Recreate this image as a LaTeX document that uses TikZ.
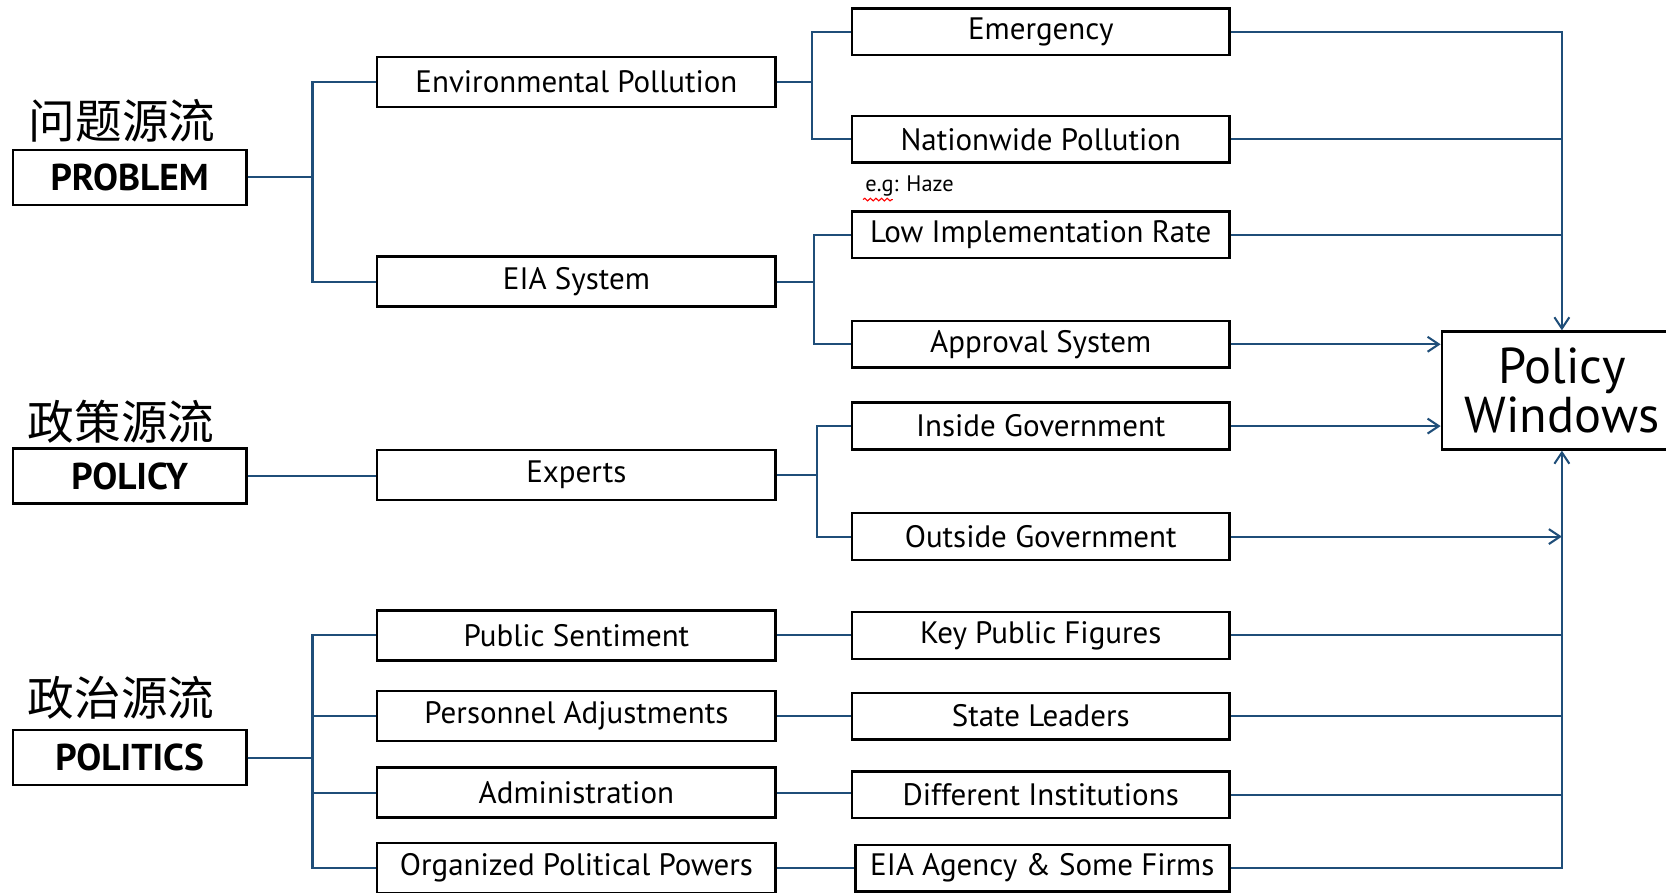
\documentclass[tikz,border=0pt]{standalone}
\usepackage{fontspec}
\setmainfont{PT Sans}
\newfontfamily\cjkfont{Noto Sans CJK SC}
\usetikzlibrary{arrows.meta,decorations.pathmorphing}
\definecolor{linkblue}{RGB}{31,78,121}

\begin{document}
\begin{tikzpicture}[x=0.02cm,y=-0.02cm,
    boxbase/.style={draw=black,line width=1.3pt,inner sep=0pt,font=\fontsize{16.6}{19}\selectfont},
    streambox/.style={boxbase,minimum width=4.4cm,minimum height=1.04cm,font=\fontsize{20}{23}\selectfont\bfseries},
    midbox/.style={boxbase,minimum width=7.5cm,minimum height=0.94cm},
    leafbox/.style={boxbase,minimum width=7.1cm,minimum height=0.88cm},
    cnlabel/.style={font=\cjkfont\fontsize{25}{28}\selectfont},
    link/.style={draw=linkblue,line width=1.1pt},
    arr/.style={link,-{Straight Barb[length=6pt,width=8pt]}}]
    \useasboundingbox (0,0) rectangle (1568,840);
    % The three streams
    \node[cnlabel] (probcn) at (115,114) {问题源流};
    \node[streambox] (problem) at (122,167) {PROBLEM};
    \node[cnlabel] (polcn) at (114,397) {政策源流};
    \node[streambox] (policy) at (122,448) {POLICY};
    \node[cnlabel] (politcn) at (114,657) {政治源流};
    \node[streambox] (politics) at (122,713) {POLITICS};
    % Middle column
    \foreach \n/\y/\t in {
        envpol/77/Environmental Pollution,
        eiasys/265/EIA System,
        experts/447/Experts,
        pubsent/598/Public Sentiment,
        personnel/674/Personnel Adjustments,
        admin/746/Administration
    } {
        \node[midbox] (\n) at (542.5,\y) {\t};
    }
    \node[midbox] (orgpow) at (542.5,817) {Organized Political Powers};
    % Right column
    \foreach \n/\y/\t in {
        emerg/30/Emergency,
        nation/131/Nationwide Pollution,
        lowimp/221/Low Implementation Rate,
        approval/324/Approval System,
        inside/401/Inside Government,
        outside/505/Outside Government,
        keypub/598/Key Public Figures,
        leaders/674/State Leaders,
        instit/748/Different Institutions
    } {
        \node[leafbox] (\n) at (979.5,\y) {\t};
    }
    \node[leafbox,minimum width=7.04cm] (eiaag) at (981,817) {EIA Agency \& Some Firms};
    % Example note
    \node[font=\fontsize{12}{14}\selectfont] (haze) at (856,175) {e.g: Haze};
    \draw[red,line width=0.6pt,decorate,decoration={snake,amplitude=0.7pt,segment length=3pt}]
        ([shift={(4,-3)}]haze.south west) -- ++(28,0);
    % Target
    \node[boxbase,minimum width=4.52cm,minimum height=2.22cm,align=center,
        font=\fontsize{27}{26}\selectfont] (windows) at (1470,367.5) {Policy\\Windows};
    % Brackets from the streams
    \draw[link] (problem.east) -- ++(61,0) |- (envpol.west);
    \draw[link] (problem.east) -- ++(61,0) |- (eiasys.west);
    \draw[link] (policy.east) -- (policy.east -| experts.west);
    \foreach \m in {pubsent,personnel,admin,orgpow}
        \draw[link] (politics.east) -- ++(61,0) |- (\m.west);
    % Second level
    \draw[link] (envpol.east) -- ++(33,0) |- (emerg.west);
    \draw[link] (envpol.east) -- ++(33,0) |- (nation.west);
    \draw[link] (eiasys.east) -- ++(35,0) |- (lowimp.west);
    \draw[link] (eiasys.east) -- ++(35,0) |- (approval.west);
    \draw[link] (experts.east) -- ++(38,0) |- (inside.west);
    \draw[link] (experts.east) -- ++(38,0) |- (outside.west);
    \foreach \a/\b in {pubsent/keypub,personnel/leaders,admin/instit,orgpow/eiaag}
        \draw[link] (\a.east) -- (\a.east -| \b.west);
    % Into the policy windows
    \draw[arr] (emerg.east) -| (windows.north);
    \foreach \m in {nation,lowimp}
        \draw[link] (\m.east) -- (\m.east -| windows.north);
    \draw[arr] (approval.east) -- (approval.east -| windows.west);
    \draw[arr] (inside.east) -- (inside.east -| windows.west);
    \draw[arr] (outside.east) -- (outside.east -| windows.south);
    \foreach \m in {keypub,leaders,instit}
        \draw[link] (\m.east) -- (\m.east -| windows.south);
    \draw[arr] (eiaag.east) -| (windows.south);
\end{tikzpicture}
\end{document}
